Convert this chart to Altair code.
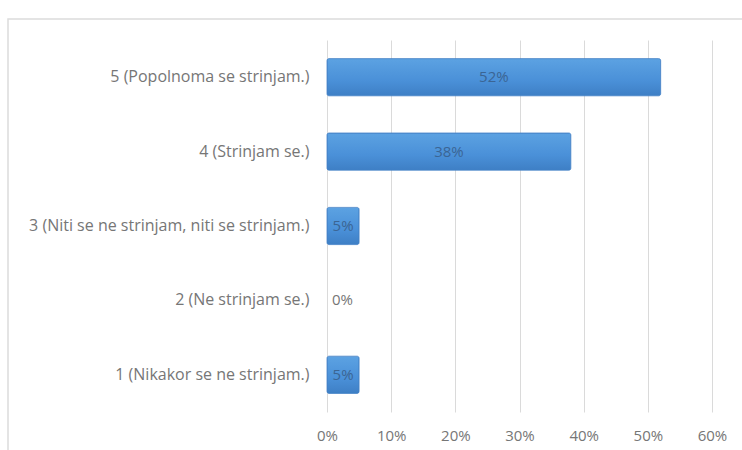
import altair as alt
import pandas as pd

# Survey answers (Likert scale) and share of respondents
categories = [
    "5 (Popolnoma se strinjam.)",
    "4 (Strinjam se.)",
    "3 (Niti se ne strinjam, niti se strinjam.)",
    "2 (Ne strinjam se.)",
    "1 (Nikakor se ne strinjam.)",
]
shares = [0.52, 0.38, 0.05, 0.00, 0.05]
labels = ["52%", "38%", "5%", "0%", "5%"]

df = pd.DataFrame({"answer": categories, "share": shares, "label": labels})

FONT = "Open Sans"
GRAY = "#767676"

y_enc = alt.Y(
    "answer:N",
    sort=categories,
    title=None,
    scale=alt.Scale(paddingInner=0.5, paddingOuter=0.25),
    axis=alt.Axis(
        domain=False, ticks=False, grid=False,
        labelFont=FONT, labelFontSize=16, labelColor=GRAY, labelPadding=18,
        labelLimit=400,
    ),
)
x_enc = alt.X(
    "share:Q",
    title=None,
    scale=alt.Scale(domain=[0, 0.6], nice=False),
    axis=alt.Axis(
        format=".0%", values=[0, 0.1, 0.2, 0.3, 0.4, 0.5, 0.6],
        domain=False, ticks=False, grid=True, gridColor="#dadada", gridWidth=1,
        labelFont=FONT, labelFontSize=15, labelColor=GRAY, labelPadding=16,
        labelFlush=False,
    ),
)

base = alt.Chart(df)

# Outer chart frame
frame = base.mark_rect(
    fill="transparent", stroke="#dcdcdc", strokeWidth=1.5, clip=False
).encode(
    x=alt.value(-319), x2=alt.value(440), y=alt.value(-21), y2=alt.value(440)
).transform_filter("datum.share == 0.52")

bars = base.transform_filter("datum.share > 0").mark_bar(
    cornerRadius=2,
    stroke="#4482c6",
    strokeWidth=0.8,
    color=alt.Gradient(
        gradient="linear",
        stops=[
            alt.GradientStop(color="#5ca2e2", offset=0),
            alt.GradientStop(color="#4a90d8", offset=0.6),
            alt.GradientStop(color="#3e7fc5", offset=1),
        ],
        x1=0, x2=0, y1=0, y2=1,
    ),
).encode(y=y_enc, x=x_enc)

inside = base.transform_filter("datum.share > 0").transform_calculate(
    mid="datum.share / 2"
).mark_text(font=FONT, fontSize=15, color="#3b6594", align="center", baseline="middle").encode(
    y=alt.Y("answer:N", sort=categories),
    x=alt.X("mid:Q"),
    text="label:N",
)

outside = base.transform_filter("datum.share == 0").mark_text(
    font=FONT, fontSize=15, color=GRAY, align="left", baseline="middle", dx=5
).encode(
    y=alt.Y("answer:N", sort=categories),
    x=alt.X("share:Q"),
    text="label:N",
)

chart = alt.layer(frame, bars, inside, outside).properties(
    width=385,
    height=372,
    padding={"left": 327, "top": 40, "right": 30, "bottom": 38},
    autosize=alt.AutoSizeParams(type="none"),
    background="white",
).configure_view(stroke=None)

chart.save("out.html", embed_options={"renderer": "svg", "actions": False})
